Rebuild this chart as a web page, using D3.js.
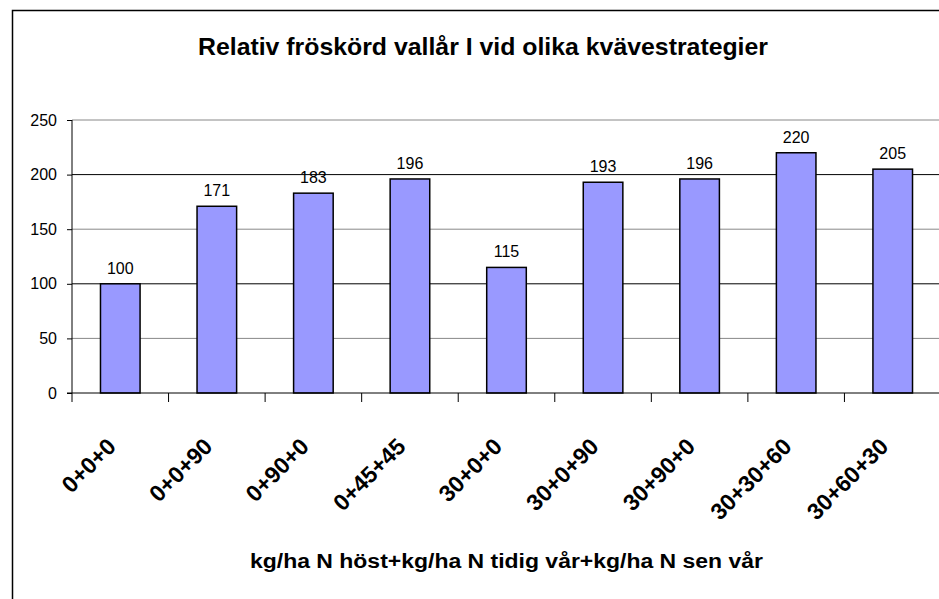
<!DOCTYPE html>
<html>
<head>
<meta charset="utf-8">
<script src="https://cdn.jsdelivr.net/npm/d3@7"></script>
<style>
  body { margin: 0; background: #fff; }
  text { font-family: "Liberation Sans", Arial, sans-serif; }
</style>
</head>
<body>
<div id="chart"></div>
<script>
// data
const categories = ["0+0+0", "0+0+90", "0+90+0", "0+45+45", "30+0+0", "30+0+90", "30+90+0", "30+30+60", "30+60+30"];
const values = [100, 171, 183, 196, 115, 193, 196, 220, 205];
const yTicks = [0, 50, 100, 150, 200, 250];
const chartTitle = "Relativ fröskörd vallår I vid olika kvävestrategier";
const xTitle = "kg/ha N höst+kg/ha N tidig vår+kg/ha N sen vår";

const width = 939, height = 599;
const plot = { left: 72, right: 941, top: 120, bottom: 393 };

const svg = d3.select("#chart").append("svg")
  .attr("width", width)
  .attr("height", height);

// outer chart border (runs off the right and bottom edge)
svg.append("rect")
  .attr("x", 12.5).attr("y", 10.5)
  .attr("width", 1000).attr("height", 700)
  .attr("fill", "none")
  .attr("stroke", "#000")
  .attr("stroke-width", 1.5);

const x = d3.scaleBand()
  .domain(categories)
  .range([plot.left, plot.right])
  .paddingInner(0.59)
  .paddingOuter(0.295);

const y = d3.scaleLinear()
  .domain([0, 250])
  .range([plot.bottom, plot.top]);

// gridlines
svg.append("g")
  .selectAll("line")
  .data(yTicks.filter(d => d > 0))
  .enter().append("line")
  .attr("x1", plot.left).attr("x2", plot.right)
  .attr("y1", d => y(d)).attr("y2", d => y(d))
  .attr("stroke", (d, i) => i % 2 === 0 ? "#888" : "#000")
  .attr("stroke-width", 1);

// bars
svg.append("g")
  .selectAll("rect")
  .data(values)
  .enter().append("rect")
  .attr("x", (d, i) => x(categories[i]))
  .attr("width", x.bandwidth())
  .attr("y", d => y(d))
  .attr("height", d => y(0) - y(d))
  .attr("fill", "#9999ff")
  .attr("stroke", "#000")
  .attr("stroke-width", 1.5);

// value labels
svg.append("g")
  .selectAll("text")
  .data(values)
  .enter().append("text")
  .attr("x", (d, i) => x(categories[i]) + x.bandwidth() / 2)
  .attr("y", d => y(d) - 10)
  .attr("text-anchor", "middle")
  .attr("font-size", "16px")
  .attr("fill", "#000")
  .text(d => d);

// y axis
const yAxis = svg.append("g")
  .attr("transform", `translate(${plot.left},0)`)
  .call(d3.axisLeft(y).tickValues(yTicks).tickSize(5).tickPadding(10));
yAxis.select(".domain").remove();
yAxis.selectAll("line").attr("stroke", "#000");
yAxis.selectAll("text")
  .attr("font-size", "16px")
  .attr("font-family", "Liberation Sans, Arial, sans-serif")
  .attr("fill", "#000");
svg.append("line")
  .attr("x1", plot.left).attr("x2", plot.left)
  .attr("y1", plot.top).attr("y2", plot.bottom + 9)
  .attr("stroke", "#000");

// x axis line + ticks between categories
svg.append("line")
  .attr("x1", plot.left - 5).attr("x2", plot.right)
  .attr("y1", plot.bottom).attr("y2", plot.bottom)
  .attr("stroke", "#000");
const step = x.step();
svg.append("g")
  .selectAll("line")
  .data(categories)
  .enter().append("line")
  .attr("x1", d => x(d) + x.bandwidth() / 2 + step / 2)
  .attr("x2", d => x(d) + x.bandwidth() / 2 + step / 2)
  .attr("y1", plot.bottom).attr("y2", plot.bottom + 9)
  .attr("stroke", "#000");

// rotated category labels
svg.append("g")
  .selectAll("text")
  .data(categories)
  .enter().append("text")
  .attr("transform", d => `translate(${x(d) + x.bandwidth() / 2 - 3},${448}) rotate(-45)`)
  .attr("text-anchor", "end")
  .attr("font-size", "23px")
  .attr("font-weight", "bold")
  .attr("fill", "#000")
  .text(d => d);

// titles
svg.append("text")
  .attr("x", 483).attr("y", 55)
  .attr("text-anchor", "middle")
  .attr("font-size", "24px")
  .attr("font-weight", "bold")
  .attr("textLength", 570)
  .attr("lengthAdjust", "spacingAndGlyphs")
  .text(chartTitle);

svg.append("text")
  .attr("x", 506.5).attr("y", 568)
  .attr("text-anchor", "middle")
  .attr("font-size", "20px")
  .attr("font-weight", "bold")
  .attr("textLength", 513)
  .attr("lengthAdjust", "spacingAndGlyphs")
  .text(xTitle);
</script>
</body>
</html>
